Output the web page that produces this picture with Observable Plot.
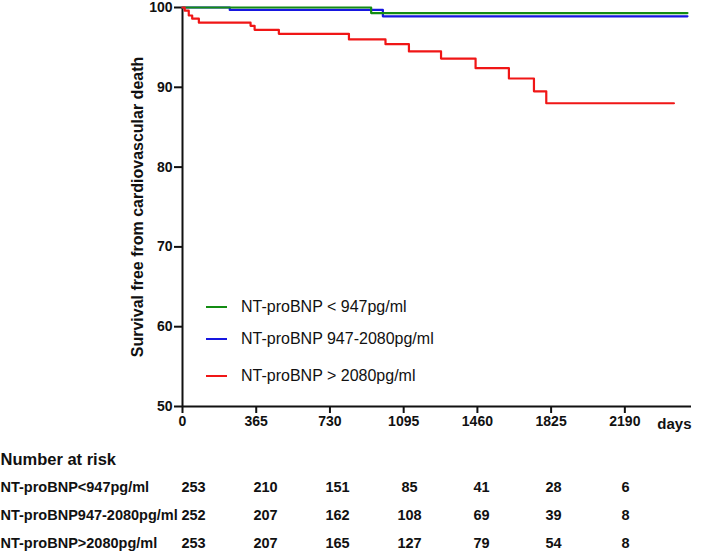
<!DOCTYPE html>
<html>
<head>
<meta charset="utf-8">
<script src="https://cdn.jsdelivr.net/npm/d3@7"></script>
<script src="https://cdn.jsdelivr.net/npm/@observablehq/plot@0.6"></script>
<style>
  html, body { margin: 0; padding: 0; background: #fff; }
  #wrap { position: relative; width: 709px; height: 552px; font-family: "Liberation Sans", Arial, sans-serif; }
  #wrap svg { display: block; }
  .leg { position: absolute; left: 206px; height: 20px; display: flex; align-items: center; font-size: 16px; color: #111; white-space: nowrap; }
  .leg .sw { width: 21px; height: 2px; margin-right: 14px; }
</style>
</head>
<body>
<div id="wrap"></div>
<script>
// ---- data ----
const groups = ["NT-proBNP < 947pg/ml", "NT-proBNP 947-2080pg/ml", "NT-proBNP > 2080pg/ml"];
const colors = ["#138c13", "#1616e0", "#f01616"];

const lowDays = [0, 934, 2500];
const lowSurv = [100, 99.3, 99.3];
const midDays = [0, 234, 992, 2500];
const midSurv = [100, 99.7, 98.9, 98.9];
const highDays = [0, 11, 31, 48, 81, 337, 357, 477, 824, 1005, 1121, 1280, 1451, 1616, 1740, 1801, 2433];
const highSurv = [100, 99.6, 99.0, 98.6, 98.1, 97.7, 97.2, 96.7, 96.0, 95.4, 94.5, 93.6, 92.4, 91.1, 89.5, 88.0, 88.0];

const xTicks = [0, 365, 730, 1095, 1460, 1825, 2190];
const yTicks = [50, 60, 70, 80, 90, 100];

const riskTimes = [0, 365, 730, 1095, 1460, 1825, 2190];
const riskLabels = ["NT-proBNP<947pg/ml", "NT-proBNP947-2080pg/ml", "NT-proBNP>2080pg/ml"];
const riskLow = [253, 210, 151, 85, 41, 28, 6];
const riskMid = [252, 207, 162, 108, 69, 39, 8];
const riskHigh = [253, 207, 165, 127, 79, 54, 8];

// ---- build tables ----
const series = [
  {g: groups[1], days: midDays, surv: midSurv},
  {g: groups[0], days: lowDays, surv: lowSurv},
  {g: groups[2], days: highDays, surv: highSurv}
];
const curve = series.flatMap(s => s.days.map((d, i) => ({group: s.g, day: d, surv: s.surv[i]})));

const riskRows = [riskLow, riskMid, riskHigh];
const riskCells = riskRows.flatMap((row, r) => row.map((n, i) => ({label: riskLabels[r], time: riskTimes[i], n})));

const font = "'Liberation Sans', Arial, sans-serif";

const main = Plot.plot({
  width: 709,
  height: 440,
  marginLeft: 182,
  marginRight: 18,
  marginTop: 7,
  marginBottom: 34,
  style: {fontFamily: font, fontSize: "14px", fontWeight: "bold", color: "#111", background: "#fff", overflow: "visible"},
  x: {domain: [0, 2520], axis: null},
  y: {domain: [50, 100], axis: null},
  color: {domain: groups, range: colors},
  marks: [
    Plot.axisX({ticks: xTicks, tickFormat: "d", tickSize: 7, tickPadding: 3, strokeWidth: 2, label: null, fontSize: 14, fontWeight: "bold"}),
    Plot.axisY({ticks: yTicks, tickFormat: "d", tickSize: 8, tickPadding: 2, strokeWidth: 2, label: null, fontSize: 14, fontWeight: "bold"}),
    Plot.ruleX([0], {strokeWidth: 2, stroke: "#111"}),
    Plot.ruleY([50], {strokeWidth: 2, stroke: "#111"}),
    Plot.line(curve, {x: "day", y: "surv", z: "group", stroke: "group", curve: "step-after", strokeWidth: 2.2}),
    Plot.text(["Survival free from cardiovascular death"], {frameAnchor: "left", textAnchor: "middle", dx: -45, rotate: -90, fontSize: 16, fontWeight: "bold", fill: "#111"}),
    Plot.text(["days"], {frameAnchor: "bottom-right", textAnchor: "end", lineAnchor: "top", dy: 12, fontSize: 15, fontWeight: "bold", fill: "#111"})
  ]
});

const table = Plot.plot({
  width: 709,
  height: 112,
  marginLeft: 0, marginRight: 0, marginTop: 0, marginBottom: 0,
  style: {fontFamily: font, fontSize: "14.5px", fontWeight: "bold", color: "#111", background: "#fff", overflow: "visible"},
  x: {type: "point", domain: riskTimes, range: [190, 627], padding: 0, axis: null},
  y: {type: "point", domain: riskLabels, range: [46.5, 103], padding: 0, axis: null},
  marks: [
    Plot.text(["Number at risk"], {frameAnchor: "top-left", textAnchor: "start", dy: 13, fontSize: 16.5, fontWeight: "bold", fill: "#111"}),
    Plot.text(riskLabels, {y: d => d, frameAnchor: "left", textAnchor: "start", fontSize: 14.5, fill: "#111"}),
    Plot.text(riskCells, {x: "time", y: "label", text: d => String(d.n), fontSize: 14.5, fill: "#111"})
  ]
});

const wrap = document.getElementById("wrap");
wrap.appendChild(main);
wrap.appendChild(table);

const legendY = [306.7, 339, 376];
groups.forEach((g, i) => {
  const row = document.createElement("div");
  row.className = "leg";
  row.style.top = (legendY[i] - 10) + "px";
  const sw = document.createElement("span");
  sw.className = "sw";
  sw.style.background = colors[i];
  const tx = document.createElement("span");
  tx.textContent = g;
  row.appendChild(sw);
  row.appendChild(tx);
  wrap.appendChild(row);
});
</script>
</body>
</html>
